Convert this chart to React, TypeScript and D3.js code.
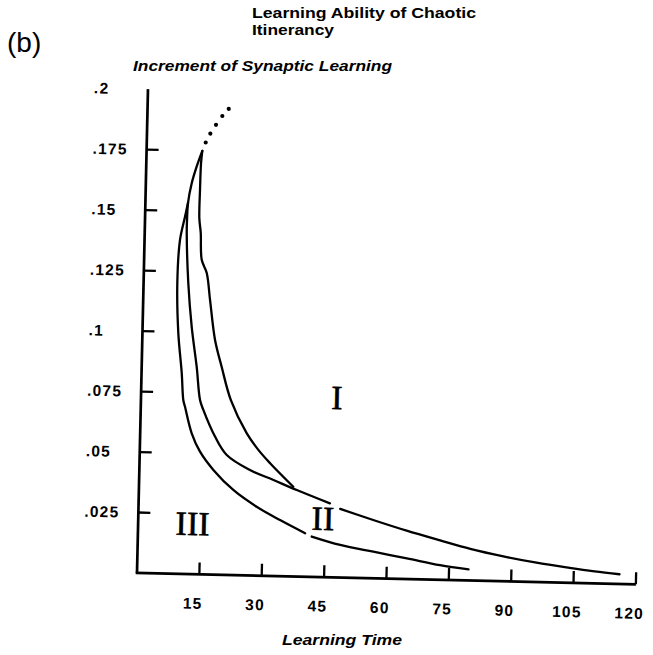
import React from 'react';
import * as d3 from 'd3';

// ---- data ----
const xTickValues = [15, 30, 45, 60, 75, 90, 105, 120];
const yLabelValues = [0.025, 0.05, 0.075, 0.1, 0.125, 0.15, 0.175, 0.2];
const yLabelTexts = ['.025', '.05', '.075', '.1', '.125', '.15', '.175', '.2'];

// boundary I / II (upper branch from apex)
const curveA: [number, number][] = [
  [13.4, 0.175], [13.16, 0.1699], [13.06, 0.1589], [13.05, 0.1472], [13.47, 0.1411],
  [13.85, 0.13], [15.13, 0.1246], [16.07, 0.1135], [17.49, 0.097], [19.24, 0.0859],
  [21.6, 0.0724], [25.6, 0.0588], [28.5, 0.052], [31.4, 0.0466], [37.1, 0.0371],
];
// long middle curve, before and after the break at "II"
const curveB1: [number, number][] = [
  [13.4, 0.175], [12.14, 0.1685], [11.03, 0.1615], [10.25, 0.1534], [10.1, 0.1463],
  [10.1, 0.141], [10.75, 0.1203], [11.81, 0.1022], [13.23, 0.0857], [14.21, 0.0721],
  [15.06, 0.068], [18.01, 0.0571], [20.93, 0.0496], [26.6, 0.0436], [32.3, 0.0397],
  [37.96, 0.0358], [46.0, 0.0306],
];
const curveB2: [number, number][] = [
  [48.5, 0.0284], [56.5, 0.0241], [64.6, 0.02], [72.7, 0.0163], [80, 0.0131],
  [88, 0.0103], [96, 0.008], [104, 0.0062], [110, 0.005], [116, 0.004],
];
// inner (lower-left) curve, before and after the break
const curveC1: [number, number][] = [
  [10.25, 0.1534], [9.6, 0.1476], [8.52, 0.138], [8.11, 0.1202], [8.62, 0.0996],
  [9.66, 0.0831], [10.19, 0.0719], [10.62, 0.0692], [12.39, 0.0582], [14.49, 0.0507],
  [17.8, 0.0433], [22.7, 0.0352], [28.4, 0.0285], [34.1, 0.0232], [40.2, 0.018],
];
const curveC2: [number, number][] = [
  [41.8, 0.0167], [48.7, 0.0135], [56.7, 0.011], [64.8, 0.0086], [72.8, 0.0061], [79.7, 0.0046],
];
// dotted continuation above the apex
const dots: [number, number][] = [
  [14.17, 0.1785], [15.23, 0.1822], [16.55, 0.1859], [18.02, 0.1896], [19.52, 0.1926],
];
// region labels
const regionLabels: { text: string; x: number; y: number }[] = [
  { text: 'I', x: 47.1, y: 0.0742 },
  { text: 'II', x: 44.4, y: 0.0241 },
  { text: 'III', x: 13.1, y: 0.0208 },
];

const W = 653;
const H = 655;

export default function App() {
  const x = d3.scaleLinear().domain([0, 120]).range([137, 636]);
  const y = d3.scaleLinear().domain([0, 0.2]).range([573, 89]);
  const line = d3
    .line<[number, number]>()
    .x((d) => x(d[0]))
    .y((d) => y(d[1]))
    .curve(d3.curveCatmullRom.alpha(0.5));

  const x0 = x(0);
  const y0 = y(0);
  const numFont = "'Liberation Sans', Arial, sans-serif";

  return (
    <svg
      width={W}
      height={H}
      viewBox={`0 0 ${W} ${H}`}
      style={{ position: 'absolute', left: 0, top: 0, display: 'block', background: '#fff' }}
    >
      <rect x={0} y={0} width={W} height={H} fill="#fff" />
      {/* panel label */}
      <text x={7} y={52} fontFamily={numFont} fontSize={28} fill="#000">(b)</text>
      {/* title */}
      <text
        x={252}
        y={18}
        fontFamily={numFont}
        fontWeight="bold"
        fontSize={14}
        textLength={224}
        lengthAdjust="spacingAndGlyphs"
        fill="#000"
      >
        Learning Ability of Chaotic
      </text>
      <text
        x={252}
        y={35}
        fontFamily={numFont}
        fontWeight="bold"
        fontSize={14}
        textLength={82}
        lengthAdjust="spacingAndGlyphs"
        fill="#000"
      >
        Itinerancy
      </text>
      <text
        x={133}
        y={71}
        fontFamily={numFont}
        fontWeight="bold"
        fontStyle="italic"
        fontSize={15}
        textLength={259}
        lengthAdjust="spacingAndGlyphs"
        fill="#000"
      >
        Increment of Synaptic Learning
      </text>

      <g transform={`rotate(1.3, ${x0}, ${y0})`}>
        {/* axes */}
        <line x1={x0} y1={y0} x2={x0} y2={y(0.2)} stroke="#000" strokeWidth={2.7} />
        <line x1={x0 - 1.3} y1={y0} x2={x(120)} y2={y0} stroke="#000" strokeWidth={2.7} />
        {yLabelValues.map((v, i) => (
          <g key={'y' + i}>
            {v < 0.2 && (
              <line x1={x0} y1={y(v)} x2={x0 + 12} y2={y(v)} stroke="#000" strokeWidth={2.3} />
            )}
            <text
              x={x0 - 54}
              y={y(v)}
              dy="0.35em"
              fontFamily={numFont}
              fontWeight="bold"
              fontSize={15.5}
              letterSpacing={1.2}
              fill="#000"
            >
              {yLabelTexts[i]}
            </text>
          </g>
        ))}
        {xTickValues.map((v) => (
          <g key={'x' + v}>
            <line x1={x(v)} y1={y0} x2={x(v)} y2={y0 - 12} stroke="#000" strokeWidth={2.3} />
            <text
              x={x(v) - 6}
              y={y0 + 29}
              dy="0.35em"
              textAnchor="middle"
              fontFamily={numFont}
              fontWeight="bold"
              fontSize={15.5}
              letterSpacing={1.2}
              fill="#000"
            >
              {v}
            </text>
          </g>
        ))}

        {/* curves */}
        {[curveA, curveB1, curveB2, curveC1, curveC2].map((c, i) => (
          <path key={'c' + i} d={line(c) || ''} fill="none" stroke="#000" strokeWidth={2.3} strokeLinecap="round" />
        ))}
        {dots.map((d, i) => (
          <circle key={'d' + i} cx={x(d[0])} cy={y(d[1])} r={2.1} fill="#000" />
        ))}

        {/* region labels */}
        {regionLabels.map((r) => (
          <text
            key={r.text}
            x={x(r.x)}
            y={y(r.y)}
            dy="0.33em"
            textAnchor="middle"
            fontFamily="'Liberation Serif', 'Times New Roman', serif"
            fontSize={34}
            stroke="#000"
            strokeWidth={0.6}
            fill="#000"
          >
            {r.text}
          </text>
        ))}
      </g>

      <text
        x={342}
        y={645}
        textAnchor="middle"
        fontFamily={numFont}
        fontWeight="bold"
        fontStyle="italic"
        fontSize={14}
        textLength={120}
        lengthAdjust="spacingAndGlyphs"
        fill="#000"
      >
        Learning Time
      </text>
    </svg>
  );
}
